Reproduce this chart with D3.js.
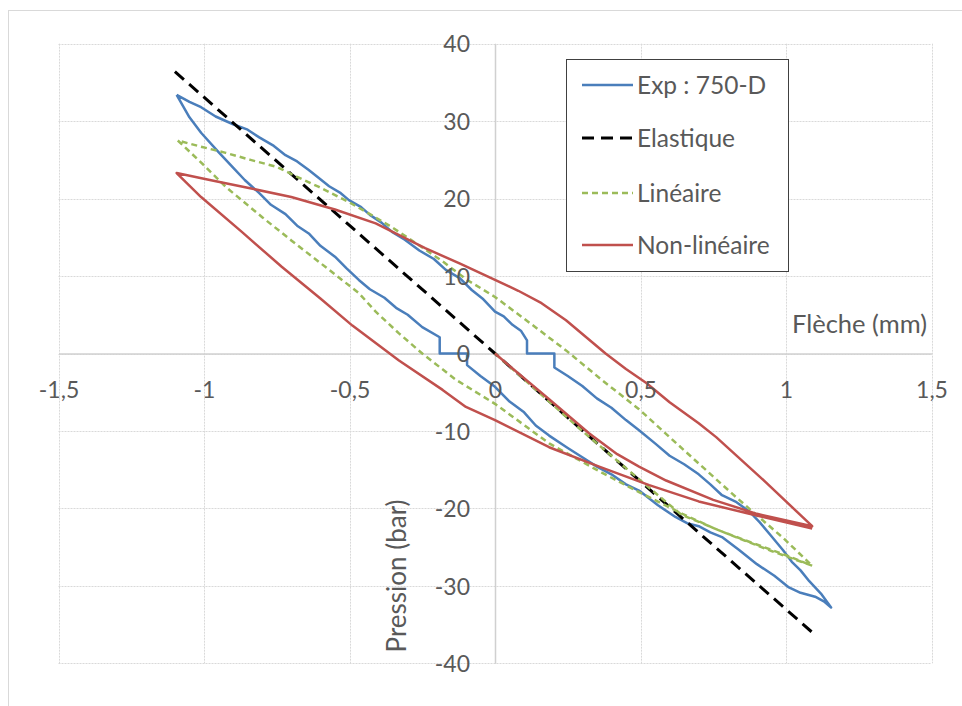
<!DOCTYPE html>
<html>
<head>
<meta charset="utf-8">
<script src="https://cdn.jsdelivr.net/npm/d3@7"></script>
<style>
  html, body { margin: 0; padding: 0; background: #fff; }
  svg text { font-family: Lato, "Open Sans", sans-serif; fill: #595959; }
</style>
</head>
<body>
<svg id="chart" width="962" height="706"></svg>
<script>
// ---- Data ----
const xTicks = [-1.5, -1, -0.5, 0, 0.5, 1, 1.5];
const yTicks = [-40, -30, -20, -10, 0, 10, 20, 30, 40];
const seriesNames = ["Exp : 750-D", "Elastique", "Linéaire", "Non-linéaire"];

// Exp : 750-D (hysteresis loop)
const expX = [-1.094, -1.05, -1.01, -0.96, -0.9, -0.85, -0.81, -0.76, -0.72, -0.68, -0.64, -0.6, -0.57, -0.53, -0.502, -0.46, -0.43, -0.39, -0.354, -0.31, -0.26, -0.21, -0.169, -0.12, -0.08, -0.04, 0.0, 0.03, 0.06, 0.09, 0.11, 0.11, 0.204, 0.204, 0.25, 0.3, 0.35, 0.4, 0.45, 0.495, 0.55, 0.6, 0.65, 0.7, 0.74, 0.78, 0.83, 0.874, 0.91, 0.95, 0.99, 1.02, 1.05, 1.08, 1.12, 1.155,
  1.13, 1.1, 1.05, 1.01, 0.96, 0.9, 0.84, 0.78, 0.74, 0.7, 0.66, 0.62, 0.56, 0.495, 0.45, 0.4, 0.35, 0.3, 0.25, 0.186, 0.14, 0.1, 0.05, 0.0, -0.05, -0.096, -0.096, -0.19, -0.19, -0.25, -0.3, -0.34, -0.38, -0.43, -0.468, -0.51, -0.55, -0.6, -0.64, -0.68, -0.72, -0.77, -0.81, -0.86, -0.9, -0.95, -1.01, -1.05, -1.094];
const expY = [33.4, 32.5, 31.8, 30.6, 29.6, 28.9, 27.9, 26.8, 25.6, 24.8, 23.7, 22.5, 21.6, 20.7, 19.8, 18.9, 17.9, 16.9, 15.7, 14.7, 13.3, 12.2, 10.8, 9.7, 8.2, 7.0, 5.4, 4.8, 3.7, 2.9, 1.7, 0, 0, -1.8, -2.9, -4.2, -5.8, -7.0, -8.6, -9.9, -11.6, -13.2, -14.3, -15.6, -16.9, -18.3, -19.2, -20.4, -21.8, -23.6, -25.4, -26.9, -28.0, -29.4, -31.0, -32.8,
  -32.0, -31.4, -30.9, -30.2, -28.7, -27.2, -25.4, -23.7, -23.1, -22.3, -21.9, -21.1, -19.6, -17.7, -16.9, -15.6, -14.6, -13.4, -12.2, -10.6, -9.3, -7.6, -6.2, -4.3, -2.9, -1.5, 0, 0, 2.1, 3.4, 5.0, 5.9, 7.2, 8.3, 9.5, 11.0, 12.5, 13.9, 15.5, 16.5, 18.0, 19.2, 20.7, 22.4, 24.0, 26.0, 28.5, 30.5, 33.4];

// Elastique
const elaX = [-1.1, 0, 1.09];
const elaY = [36.4, 0, -36.0];

// Linéaire
const linX = [0, 0.15, 0.3, 0.5, 0.64, 0.8, 0.95, 1.09,
  0.99, 0.9, 0.815, 0.7, 0.6, 0.495, 0.37, 0.244, 0.1, 0, -0.1, -0.18, -0.27, -0.354, -0.43, -0.5, -0.605, -0.68, -0.75, -0.84, -0.925, -1.01, -1.09,
  -1.0, -0.925, -0.8, -0.7, -0.58, -0.468, -0.41, -0.33, -0.25, -0.134, 0, 0.186, 0.358, 0.495, 0.644, 0.76, 0.88, 0.99, 1.09];
const linY = [0, -5.0, -10.0, -16.4, -20.8, -23.3, -25.5, -27.4,
  -23.8, -20.9, -18.1, -14.2, -10.8, -7.2, -3.5, 0.4, 4.5, 7.3, 9.6, 11.9, 14.2, 16.3, 18.0, 19.5, 21.5, 22.8, 24.1, 25.0, 25.9, 26.7, 27.5,
  24.3, 21.5, 17.6, 14.6, 11.1, 7.8, 5.4, 2.6, 0, -3.4, -6.5, -11.6, -15.2, -17.9, -20.7, -22.7, -24.4, -25.9, -27.4];

// Non-linéaire
const nlX = [0, 0.1, 0.186, 0.323, 0.42, 0.495, 0.588, 0.75, 0.9, 1.09,
  0.93, 0.76, 0.7, 0.6, 0.52, 0.45, 0.38, 0.244, 0.16, 0.08, 0, -0.12, -0.24, -0.41, -0.55, -0.70, -0.85, -0.98, -1.094,
  -1.01, -0.87, -0.733, -0.6, -0.49, -0.33, -0.18, -0.1, 0, 0.186, 0.358, 0.53, 0.7, 0.874, 1.09];
const nlY = [0, -3.2, -5.9, -10.3, -13.0, -14.6, -16.4, -18.9, -20.7, -22.3,
  -16.6, -10.8, -9.0, -6.3, -3.8, -2.0, 0, 4.3, 6.5, 8.1, 9.5, 11.6, 13.6, 16.8, 18.6, 20.2, 21.4, 22.4, 23.3,
  20.2, 15.7, 11.2, 7.1, 3.6, -0.9, -4.7, -6.9, -8.6, -12.1, -14.6, -17.0, -19.1, -20.7, -22.6];

// ---- Chart ----
const svg = d3.select("#chart");
const mLeft = 58.5, mRight = 931.5, mTop = 43.7, mBottom = 663.3;
const x = d3.scaleLinear().domain([-1.5, 1.5]).range([mLeft, mRight]);
const y = d3.scaleLinear().domain([-40, 40]).range([mBottom, mTop]);

// outer chart border
svg.append("rect").attr("x", 8.5).attr("y", 10.5).attr("width", 980).attr("height", 720)
  .attr("fill", "none").attr("stroke", "#d9d9d9").attr("stroke-width", 1);

// gridlines
const grid = svg.append("g");
grid.selectAll(".vg").data(xTicks).enter().append("line")
  .attr("x1", d => Math.round(x(d)) + 0.5).attr("x2", d => Math.round(x(d)) + 0.5)
  .attr("y1", mTop).attr("y2", mBottom)
  .attr("stroke", "#d9d9d9").attr("stroke-width", 1).attr("stroke-dasharray", "2,1");
grid.selectAll(".hg").data(yTicks).enter().append("line")
  .attr("y1", d => Math.round(y(d)) + 0.5).attr("y2", d => Math.round(y(d)) + 0.5)
  .attr("x1", mLeft).attr("x2", mRight)
  .attr("stroke", "#d9d9d9").attr("stroke-width", 1).attr("stroke-dasharray", "2,1");

// axes through zero, no tick marks
const xAxis = d3.axisBottom(x).tickValues(xTicks).tickSize(0)
  .tickFormat(d => String(d).replace(".", ","));
const yAxis = d3.axisLeft(y).tickValues(yTicks).tickSize(0)
  .tickFormat(d => String(d));

const gx = svg.append("g").attr("transform", `translate(0,${y(0)})`).call(xAxis);
gx.select(".domain").attr("stroke", "#d0d0d0").attr("stroke-width", 1.5);
gx.selectAll("text").attr("font-size", 23).attr("dy", null).attr("y", 44)
  .attr("font-family", "Lato, sans-serif").attr("fill", "#595959");

const gy = svg.append("g").attr("transform", `translate(${x(0)},0)`).call(yAxis);
gy.select(".domain").attr("stroke", "#d0d0d0").attr("stroke-width", 1.5);
gy.selectAll("text").attr("font-size", 23).attr("x", -25).attr("dy", "0.36em")
  .attr("font-family", "Lato, sans-serif").attr("fill", "#595959");

// series
const line = d3.line().x(d => x(d[0])).y(d => y(d[1]));
const zip = (a, b) => a.map((v, i) => [v, b[i]]);
const series = [
  { name: seriesNames[0], pts: zip(expX, expY), color: "#4a7ebb", dash: null, w: 2.5 },
  { name: seriesNames[1], pts: zip(elaX, elaY), color: "#000000", dash: "12,7", w: 3 },
  { name: seriesNames[2], pts: zip(linX, linY), color: "#9bbb59", dash: "6,4", w: 2.5 },
  { name: seriesNames[3], pts: zip(nlX, nlY), color: "#c0504d", dash: null, w: 2.5 }
];
const plot = svg.append("g");
series.forEach(s => {
  plot.append("path").attr("d", line(s.pts)).attr("fill", "none")
    .attr("stroke", s.color).attr("stroke-width", s.w)
    .attr("stroke-linejoin", "round")
    .attr("stroke-dasharray", s.dash);
});

// axis labels on top of plot, axis lines below
const gxLine = gx.select(".domain").remove();
const gyLine = gy.select(".domain").remove();
grid.append(() => gxLine.node()).attr("transform", `translate(0,${y(0)})`);
grid.append(() => gyLine.node()).attr("transform", `translate(${x(0)},0)`);
gx.raise(); gy.raise();

// axis titles
svg.append("text").attr("x", 927).attr("y", 333).attr("text-anchor", "end")
  .attr("font-size", 25.5).text("Flèche (mm)");
svg.append("text").attr("transform", "translate(406,576) rotate(-90)")
  .attr("text-anchor", "middle").attr("font-size", 26).text("Pression (bar)");

// legend
const lg = svg.append("g");
lg.append("rect").attr("x", 566.5).attr("y", 59.5).attr("width", 222).attr("height", 212)
  .attr("fill", "#fff").attr("stroke", "#404040").attr("stroke-width", 1);
const ly = [85, 138, 193, 245];
series.forEach((s, i) => {
  lg.append("line").attr("x1", 582).attr("x2", 633).attr("y1", ly[i]).attr("y2", ly[i])
    .attr("stroke", s.color).attr("stroke-width", s.w)
    .attr("stroke-dasharray", s.dash);
  lg.append("text").attr("x", 637).attr("y", ly[i]).attr("dy", "0.36em")
    .attr("font-size", 24.5).text(s.name);
});
</script>
</body>
</html>
